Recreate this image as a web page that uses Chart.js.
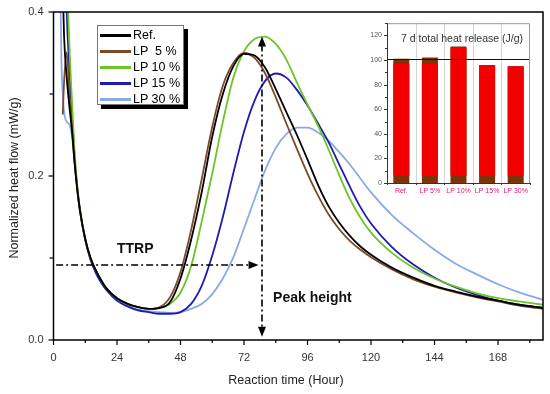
<!DOCTYPE html>
<html><head><meta charset="utf-8">
<script src="https://cdn.jsdelivr.net/npm/chart.js@4.4.0/dist/chart.umd.min.js"></script>
<style>
html,body{margin:0;padding:0;background:#fff;}
#wrap{position:relative;width:550px;height:394px;overflow:hidden;}
#main{position:absolute;left:0;top:0;}
#inset{position:absolute;left:355px;top:14px;}
#legend{position:absolute;left:97px;top:25px;width:85px;height:78px;border:1px solid #777;background:#fff;box-shadow:4px 4px 0 #000;font-family:"Liberation Sans",Arial,sans-serif;font-size:12.5px;color:#000;}
.row{position:absolute;left:0;height:16px;width:85px;white-space:pre;}
.sw{position:absolute;left:2px;top:7px;width:31px;height:2.5px;}
.tx{position:absolute;left:35px;top:0;line-height:16px;}
</style>
</head><body>
<div id="wrap">
<canvas id="main" width="550" height="394"></canvas>
<canvas id="inset" width="182" height="184"></canvas>
<div id="legend"></div>
</div>
<script>
// ---- data ----
const hours = [2, 3, 3.5, 4, 5, 6, 7, 8, 9, 10, 12, 14, 16, 18, 20, 24, 28, 32, 36, 40, 44, 48, 52, 56, 60, 64, 68, 72, 76, 80, 84, 88, 92, 96, 100, 104, 108, 112, 116, 120, 128, 136, 144, 152, 160, 168, 176, 185];

const refFlow = [null, 0.52, 0.43, 0.37, 0.32, 0.285, 0.255, 0.215, 0.183, 0.158,
  0.123, 0.100, 0.085, 0.073, 0.063, 0.051, 0.044, 0.040, 0.038, 0.039,
  0.046, 0.075, 0.122, 0.180, 0.248, 0.300, 0.334, 0.349, 0.347, 0.332,
  0.306, 0.278, 0.250, 0.220, 0.189, 0.163, 0.143, 0.127, 0.114, 0.104,
  0.088, 0.076, 0.066, 0.059, 0.053, 0.048, 0.043, 0.039];

const lp5Flow = [null, null, 0.275, 0.315, 0.351, 0.300, 0.258, 0.217, 0.184, 0.158,
  0.123, 0.100, 0.085, 0.073, 0.063, 0.051, 0.044, 0.040, 0.038, 0.040,
  0.052, 0.083, 0.134, 0.196, 0.260, 0.310, 0.338, 0.350, 0.344, 0.325,
  0.296, 0.264, 0.233, 0.203, 0.176, 0.153, 0.135, 0.121, 0.110, 0.101,
  0.086, 0.074, 0.065, 0.058, 0.052, 0.047, 0.042, 0.038];

const lp10Flow = [null, null, null, 0.65, 0.46, 0.36, 0.29, 0.228, 0.187, 0.160,
  0.124, 0.100, 0.085, 0.073, 0.063, 0.051, 0.044, 0.040, 0.038, 0.039,
  0.044, 0.058, 0.090, 0.144, 0.203, 0.266, 0.320, 0.352, 0.367, 0.370,
  0.361, 0.342, 0.314, 0.287, 0.261, 0.232, 0.201, 0.172, 0.149, 0.131,
  0.106, 0.088, 0.075, 0.065, 0.057, 0.051, 0.047, 0.043];

const lp15Flow = [null, null, null, 0.55, 0.40, 0.33, 0.272, 0.222, 0.185, 0.158,
  0.122, 0.098, 0.082, 0.070, 0.061, 0.048, 0.041, 0.036, 0.034, 0.032,
  0.032, 0.034, 0.044, 0.066, 0.103, 0.150, 0.204, 0.254, 0.292, 0.316,
  0.325, 0.320, 0.305, 0.286, 0.264, 0.241, 0.214, 0.187, 0.162, 0.142,
  0.113, 0.092, 0.076, 0.064, 0.055, 0.048, 0.043, 0.039];

const lp30Flow = [0.55, 0.34, 0.30, 0.278, 0.266, 0.263, 0.248, 0.215, 0.183, 0.157,
  0.122, 0.098, 0.082, 0.070, 0.061, 0.048, 0.041, 0.037, 0.035, 0.034,
  0.033, 0.034, 0.038, 0.044, 0.056, 0.075, 0.101, 0.136, 0.172, 0.207,
  0.234, 0.251, 0.259, 0.259, 0.253, 0.243, 0.229, 0.214, 0.197, 0.180,
  0.152, 0.130, 0.110, 0.093, 0.080, 0.068, 0.058, 0.049];

const seriesNames = ['Ref.', 'LP  5 %', 'LP 10 %', 'LP 15 %', 'LP 30 %'];
const seriesColors = ['#000000', '#7b4a2a', '#6cc426', '#1c1cb4', '#8aaae6'];

const barCategories = ['Ref.', 'LP 5%', 'LP 10%', 'LP 15%', 'LP 30%'];
const totalHeat = [101, 102, 111, 96, 95];
const redBandTop = [97, 97, 110, 96, 95];
const brownBase = 6;

const xTickStep = 12, xLabelStep = 24;
const yTickStep = 0.1;
const ttrpLevel = 0.0915, ttrpEnd = 77.5;
const peakHour = 78.8, peakTop = 0.37;

// ---- legend (html text) ----
const leg = document.getElementById('legend');
seriesNames.forEach((n, i) => {
  const r = document.createElement('div');
  r.className = 'row'; r.style.top = (1 + i * 16) + 'px';
  r.innerHTML = '<div class="sw" style="background:' + seriesColors[i] + '"></div><div class="tx"></div>';
  r.querySelector('.tx').textContent = n;
  leg.appendChild(r);
});

const FONT = '"Liberation Sans", Arial, sans-serif';
Chart.defaults.font.family = FONT;

function pts(arr) {
  const out = [];
  arr.forEach((v, i) => { if (v !== null) out.push({x: hours[i], y: v}); });
  return out;
}
const allFlows = [refFlow, lp5Flow, lp10Flow, lp15Flow, lp30Flow];

function arrowHead(ctx, x, y, dir) {
  ctx.save(); ctx.setLineDash([]); ctx.beginPath();
  const L = 10, W = 4;
  if (dir === 'right') { ctx.moveTo(x, y); ctx.lineTo(x - L, y - W); ctx.lineTo(x - L, y + W); }
  if (dir === 'up') { ctx.moveTo(x, y); ctx.lineTo(x - W, y + L); ctx.lineTo(x + W, y + L); }
  if (dir === 'down') { ctx.moveTo(x, y); ctx.lineTo(x - W, y - L); ctx.lineTo(x + W, y - L); }
  ctx.closePath(); ctx.fillStyle = '#000'; ctx.fill(); ctx.restore();
}

const mainDeco = {
  id: 'mainDeco',
  afterDraw(chart) {
    const ctx = chart.ctx, ca = chart.chartArea, xs = chart.scales.x, ys = chart.scales.y;
    ctx.save();
    // arrows
    ctx.strokeStyle = '#000'; ctx.lineWidth = 1.6; ctx.setLineDash([7, 3, 2, 3]);
    const hy = ys.getPixelForValue(ttrpLevel);
    const hx1 = xs.getPixelForValue(1), hx2 = xs.getPixelForValue(ttrpEnd);
    ctx.beginPath(); ctx.moveTo(hx1, hy); ctx.lineTo(hx2 - 8, hy); ctx.stroke();
    arrowHead(ctx, hx2, hy, 'right');
    const vx = xs.getPixelForValue(peakHour);
    const vy1 = ys.getPixelForValue(peakTop), vy2 = ys.getPixelForValue(0.004);
    ctx.setLineDash([7, 3, 2, 3]);
    ctx.beginPath(); ctx.moveTo(vx, vy1 + 8); ctx.lineTo(vx, vy2 - 8); ctx.stroke();
    arrowHead(ctx, vx, vy1, 'up'); arrowHead(ctx, vx, vy2, 'down');
    ctx.setLineDash([]);
    // annotation texts
    ctx.fillStyle = '#111'; ctx.font = 'bold 14px ' + FONT; ctx.textBaseline = 'middle'; ctx.textAlign = 'left';
    ctx.fillText('TTRP', xs.getPixelForValue(24), ys.getPixelForValue(0.111));
    ctx.fillText('Peak height', xs.getPixelForValue(83), ys.getPixelForValue(0.051));
    // frame
    ctx.lineWidth = 1.5; ctx.strokeStyle = '#000';
    ctx.strokeRect(ca.left, ca.top, ca.right - ca.left, ca.bottom - ca.top);
    // ticks
    ctx.lineWidth = 1.2;
    for (let v = 0; v <= xs.max; v += xTickStep) {
      const p = xs.getPixelForValue(v), len = (v % xLabelStep === 0) ? 5 : 3;
      ctx.beginPath(); ctx.moveTo(p, ca.bottom); ctx.lineTo(p, ca.bottom + len); ctx.stroke();
    }
    for (let k = 0; k <= 4; k++) {
      const p = ys.getPixelForValue(k * yTickStep), len = (k % 2 === 0) ? 5 : 4;
      ctx.beginPath(); ctx.moveTo(ca.left, p); ctx.lineTo(ca.left - len, p); ctx.stroke();
    }
    // axis titles
    ctx.fillStyle = '#222'; ctx.font = '12.5px ' + FONT; ctx.textAlign = 'center'; ctx.textBaseline = 'middle';
    ctx.fillText('Reaction time (Hour)', 286, 381);
    ctx.translate(15, 178); ctx.rotate(-Math.PI / 2);
    ctx.fillText('Normalized heat flow (mW/g)', 0, 0);
    ctx.restore();
  }
};

new Chart(document.getElementById('main'), {
  type: 'line',
  data: {
    datasets: allFlows.map((f, i) => ({
      label: seriesNames[i], data: pts(f), borderColor: seriesColors[i],
      borderWidth: 1.8, pointRadius: 0, fill: false, cubicInterpolationMode: 'monotone'
    }))
  },
  options: {
    responsive: false, animation: false, devicePixelRatio: 1,
    layout: {padding: {left: 0, right: 7, top: 12, bottom: 0}},
    plugins: {legend: {display: false}, tooltip: {enabled: false}},
    scales: {
      x: {
        type: 'linear', min: 0, max: 185,
        grid: {display: false, drawTicks: false},
        border: {display: false},
        afterFit(s) { s.height = 54; s.paddingLeft = 0; s.paddingRight = 0; },
        ticks: {
          stepSize: xTickStep, includeBounds: false, autoSkip: false, maxRotation: 0,
          color: '#333', font: {size: 11}, padding: 11,
          callback: v => (v % xLabelStep === 0 ? String(v) : '')
        }
      },
      y: {
        min: 0, max: 0.4,
        grid: {display: false, drawTicks: false},
        border: {display: false},
        afterFit(s) { s.width = 53.5; s.paddingTop = 0; s.paddingBottom = 0; },
        ticks: {
          stepSize: yTickStep, includeBounds: false, autoSkip: false,
          color: '#333', font: {size: 11}, padding: 10,
          callback: v => (Math.round(v * 10) % 2 === 0 ? v.toFixed(1) : '')
        }
      }
    }
  },
  plugins: [mainDeco]
});

// ---- inset bar chart ----
const insetDeco = {
  id: 'insetDeco',
  beforeDatasetsDraw(chart) {
    const ctx = chart.ctx, ca = chart.chartArea, xs = chart.scales.x;
    ctx.save(); ctx.strokeStyle = '#d4d4d4'; ctx.lineWidth = 1;
    for (let i = 1; i < barCategories.length; i++) {
      const p = Math.round((xs.getPixelForValue(i - 1) + xs.getPixelForValue(i)) / 2) + 0.5;
      ctx.beginPath(); ctx.moveTo(p, ca.top); ctx.lineTo(p, ca.bottom); ctx.stroke();
    }
    ctx.restore();
  },
  afterDraw(chart) {
    const ctx = chart.ctx, ca = chart.chartArea, ys = chart.scales.y, xs = chart.scales.x;
    ctx.save();
    // reference line
    const ry = Math.round(ys.getPixelForValue(totalHeat[0])) + 0.5;
    ctx.strokeStyle = '#111'; ctx.lineWidth = 1;
    ctx.beginPath(); ctx.moveTo(ca.left, ry); ctx.lineTo(ca.right, ry); ctx.stroke();
    // box
    ctx.strokeStyle = '#999';
    ctx.beginPath(); ctx.moveTo(ca.left, ca.top + 0.5); ctx.lineTo(ca.right - 0.5, ca.top + 0.5); ctx.lineTo(ca.right - 0.5, ca.bottom); ctx.stroke();
    ctx.strokeStyle = '#333';
    ctx.beginPath(); ctx.moveTo(ca.left + 0.5, ca.top); ctx.lineTo(ca.left + 0.5, ca.bottom + 0.5); ctx.lineTo(ca.right, ca.bottom + 0.5); ctx.stroke();
    // y ticks
    for (let v = 0; v <= 130; v += 10) {
      const p = Math.round(ys.getPixelForValue(v)) + 0.5, len = (v % 20 === 0) ? 3 : 2;
      ctx.beginPath(); ctx.moveTo(ca.left, p); ctx.lineTo(ca.left - len, p); ctx.stroke();
    }
    for (let i = 0; i <= barCategories.length; i++) {
      const p = Math.round(xs.getPixelForValue(i - 0.5)) + 0.5;
      ctx.beginPath(); ctx.moveTo(p, ca.bottom); ctx.lineTo(p, ca.bottom + 2); ctx.stroke();
    }
    // title
    ctx.fillStyle = '#333'; ctx.font = '10.5px ' + FONT; ctx.textAlign = 'center'; ctx.textBaseline = 'middle';
    ctx.fillText('7 d total heat release (J/g)', 107, 25);
    ctx.restore();
  }
};

new Chart(document.getElementById('inset'), {
  type: 'bar',
  data: {
    labels: barCategories,
    datasets: [
      {data: redBandTop.map(t => [brownBase, t]), backgroundColor: '#f20000', barPercentage: 0.56, categoryPercentage: 1, grouped: false, order: 0},
      {data: totalHeat, backgroundColor: '#7e3208', barPercentage: 0.56, categoryPercentage: 1, grouped: false, order: 1}
    ]
  },
  options: {
    responsive: false, animation: false, devicePixelRatio: 1,
    layout: {padding: {left: 0, right: 7, top: 9, bottom: 0}},
    plugins: {legend: {display: false}, tooltip: {enabled: false}},
    scales: {
      x: {
        grid: {display: false, drawTicks: false}, border: {display: false},
        afterFit(s) { s.height = 15; },
        ticks: {color: '#e0147a', font: {size: 7}, padding: 4, autoSkip: false, maxRotation: 0}
      },
      y: {
        min: 0, max: 130,
        grid: {display: false, drawTicks: false}, border: {display: false},
        afterFit(s) { s.width = 32; },
        ticks: {stepSize: 20, includeBounds: false, color: '#555', font: {size: 7}, padding: 5}
      }
    }
  },
  plugins: [insetDeco]
});
</script>
</body></html>
